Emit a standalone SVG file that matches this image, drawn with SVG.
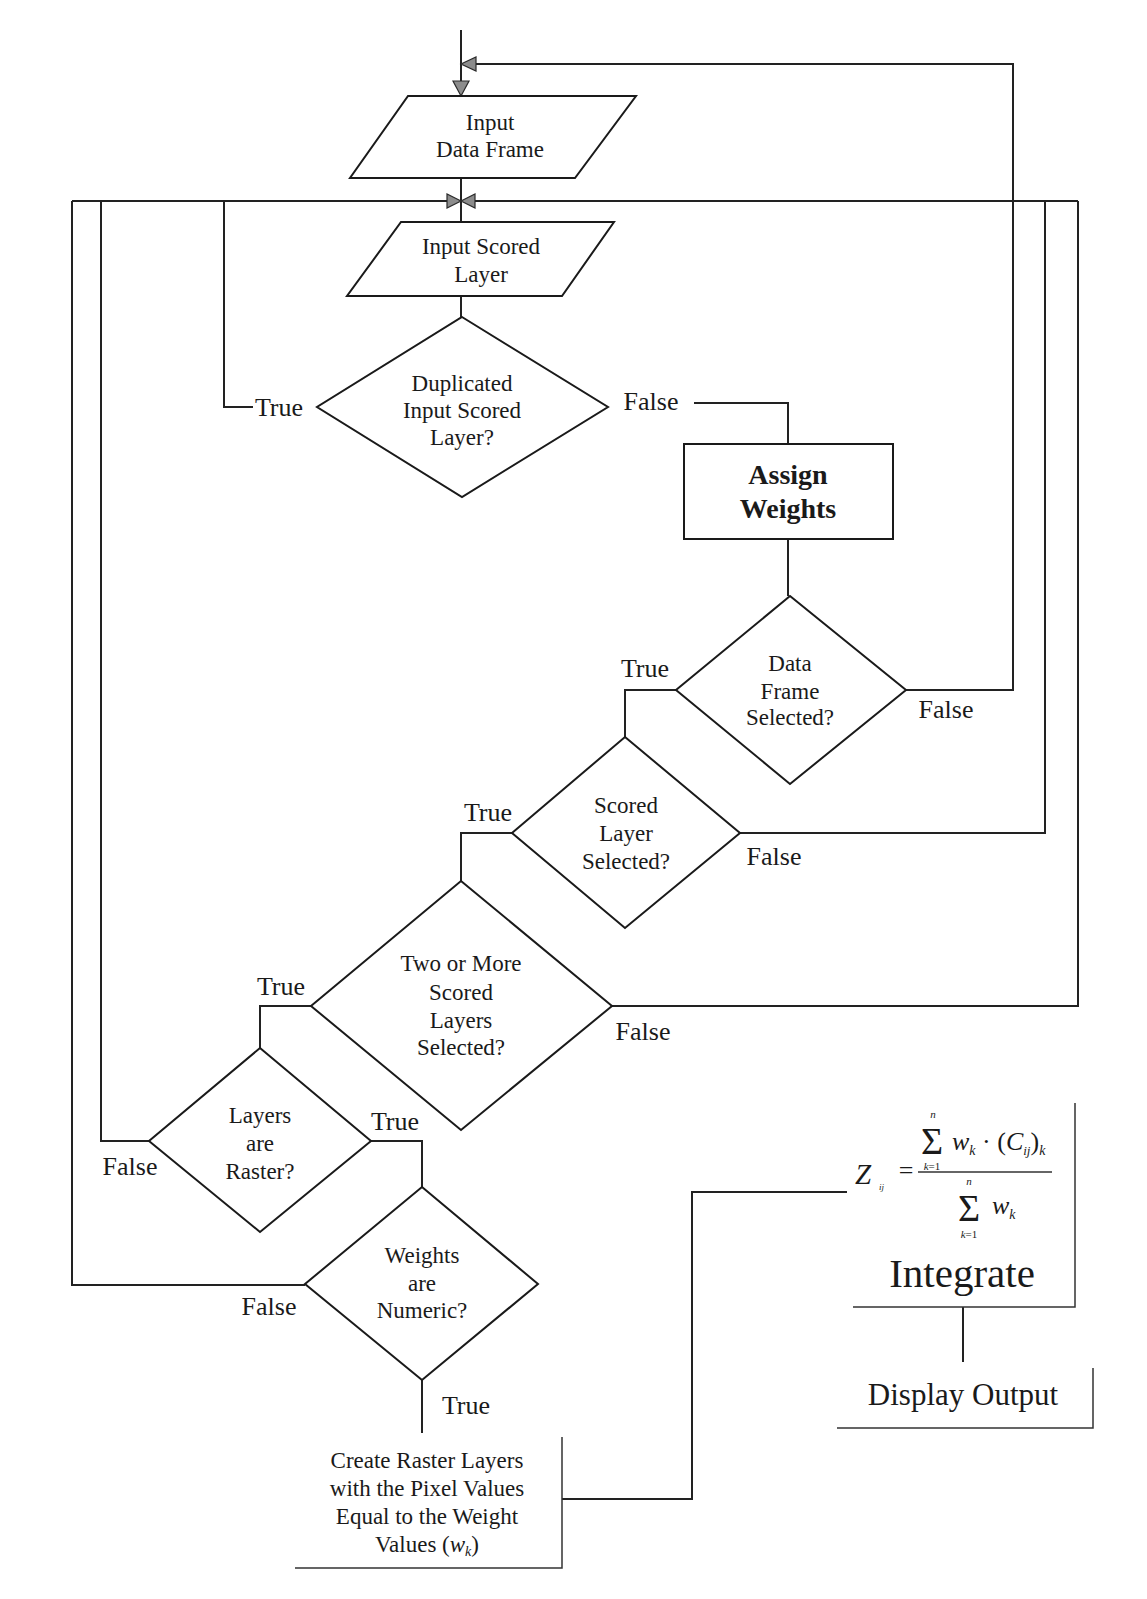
<svg xmlns="http://www.w3.org/2000/svg" width="1147" height="1599" viewBox="0 0 1147 1599">
<style>
  .bg{fill:#ffffff}
  .shape{fill:none;stroke:#1a1a1a;stroke-width:2}
  .ln{fill:none;stroke:#222;stroke-width:2}
  .thin{fill:none;stroke:#333;stroke-width:1.5}
  .ah{fill:#8c8c8c;stroke:#2a2a2a;stroke-width:1.2}
  text{font-family:"Liberation Serif","Times New Roman",serif;fill:#1a1a1a}
  .t{font-size:23px;text-anchor:middle}
  .lb{font-size:26px;text-anchor:middle}
  .b{font-size:28px;font-weight:bold;text-anchor:middle}
  .big{font-size:41px;text-anchor:middle}
  .disp{font-size:31px;text-anchor:middle}
  .it{font-style:italic}
  .sig{font-size:38px;text-anchor:middle}
  .lim{font-size:11px;text-anchor:middle}
</style>
<rect class="bg" x="0" y="0" width="1147" height="1599"/>

<g id="connectors">
  <path class="ln" d="M461,30 V96"/>
  <path class="ln" d="M461,178 V222"/>
  <path class="ln" d="M461,296 V317"/>
  <path class="ln" d="M253,407 H224 V201"/>
  <path class="ln" d="M72,201 H447"/>
  <path class="ln" d="M475,201 H1078"/>
  <path class="ln" d="M694,403 H788 V444"/>
  <path class="ln" d="M788,539 V596"/>
  <path class="ln" d="M906,690 H1013 V64 H476"/>
  <path class="ln" d="M676,690 H625 V737"/>
  <path class="ln" d="M740,833 H1045 V201"/>
  <path class="ln" d="M512,833 H461 V881"/>
  <path class="ln" d="M612,1006 H1078 V201"/>
  <path class="ln" d="M311,1006 H260 V1048"/>
  <path class="ln" d="M149,1141 H101 V201"/>
  <path class="ln" d="M371,1141 H422 V1187"/>
  <path class="ln" d="M305,1285 H72 V201"/>
  <path class="ln" d="M422,1380 V1433"/>
  <path class="ln" d="M562,1499 H692 V1192 H847"/>
  <path class="ln" d="M963,1307 V1362"/>
  <polygon class="ah" points="461,64 476,57 476,71"/>
  <polygon class="ah" points="461,96 453,81 469,81"/>
  <polygon class="ah" points="461,201 447,194 447,208"/>
  <polygon class="ah" points="461,201 475,194 475,208"/>
</g>

<g id="input-data-frame">
  <polygon class="shape" points="408,96 636,96 575,178 350,178"/>
  <text class="t" x="490" y="130">Input</text>
  <text class="t" x="490" y="157">Data Frame</text>
</g>

<g id="input-scored-layer">
  <polygon class="shape" points="401,222 614,222 562,296 347,296"/>
  <text class="t" x="481" y="254">Input Scored</text>
  <text class="t" x="481" y="282">Layer</text>
</g>

<g id="duplicated">
  <polygon class="shape" points="462,317 608,407 462,497 317,407"/>
  <text class="t" x="462" y="391">Duplicated</text>
  <text class="t" x="462" y="418">Input Scored</text>
  <text class="t" x="462" y="445">Layer?</text>
  <text class="lb" x="279" y="416">True</text>
  <text class="lb" x="651" y="410">False</text>
</g>

<g id="assign-weights">
  <rect class="shape" x="684" y="444" width="209" height="95"/>
  <text class="b" x="788" y="484">Assign</text>
  <text class="b" x="788" y="518">Weights</text>
</g>

<g id="data-frame-selected">
  <polygon class="shape" points="790,596 906,690 790,784 676,690"/>
  <text class="t" x="790" y="671">Data</text>
  <text class="t" x="790" y="699">Frame</text>
  <text class="t" x="790" y="725">Selected?</text>
  <text class="lb" x="645" y="677">True</text>
  <text class="lb" x="946" y="718">False</text>
</g>

<g id="scored-layer-selected">
  <polygon class="shape" points="625,737 740,833 625,928 512,833"/>
  <text class="t" x="626" y="813">Scored</text>
  <text class="t" x="626" y="841">Layer</text>
  <text class="t" x="626" y="869">Selected?</text>
  <text class="lb" x="488" y="821">True</text>
  <text class="lb" x="774" y="865">False</text>
</g>

<g id="two-or-more">
  <polygon class="shape" points="461,881 612,1006 461,1130 311,1006"/>
  <text class="t" x="461" y="971">Two or More</text>
  <text class="t" x="461" y="1000">Scored</text>
  <text class="t" x="461" y="1028">Layers</text>
  <text class="t" x="461" y="1055">Selected?</text>
  <text class="lb" x="281" y="995">True</text>
  <text class="lb" x="643" y="1040">False</text>
</g>

<g id="layers-raster">
  <polygon class="shape" points="260,1048 371,1141 260,1232 149,1141"/>
  <text class="t" x="260" y="1123">Layers</text>
  <text class="t" x="260" y="1151">are</text>
  <text class="t" x="260" y="1179">Raster?</text>
  <text class="lb" x="395" y="1130">True</text>
  <text class="lb" x="130" y="1175">False</text>
</g>

<g id="weights-numeric">
  <polygon class="shape" points="422,1187 538,1284 422,1380 305,1284"/>
  <text class="t" x="422" y="1263">Weights</text>
  <text class="t" x="422" y="1291">are</text>
  <text class="t" x="422" y="1318">Numeric?</text>
  <text class="lb" x="269" y="1315">False</text>
  <text class="lb" x="466" y="1414">True</text>
</g>

<g id="create-raster">
  <path class="thin" d="M295,1568 H562 V1437"/>
  <text class="t" x="427" y="1468">Create Raster Layers</text>
  <text class="t" x="427" y="1496">with the Pixel Values</text>
  <text class="t" x="427" y="1524">Equal to the Weight</text>
  <text class="t" x="427" y="1552">Values (<tspan class="it">w</tspan><tspan class="it" font-size="14" dy="4">k</tspan><tspan dy="-4">)</tspan></text>
</g>

<g id="integrate">
  <path class="thin" d="M853,1307 H1075 V1103"/>
  <text class="it" x="863" y="1184" font-size="29" text-anchor="middle">Z</text>
  <text class="it" x="879" y="1190" font-size="9">ij</text>
  <text x="906" y="1179" font-size="26" text-anchor="middle">=</text>
  <line class="thin" x1="918" y1="1172" x2="1052" y2="1172"/>
  <text class="sig" x="932" y="1154">Σ</text>
  <text class="it lim" x="933" y="1118" font-size="13">n</text>
  <text class="lim" x="932" y="1170"><tspan class="it">k</tspan>=1</text>
  <text x="952" y="1150" font-size="26"><tspan class="it">w</tspan><tspan class="it" font-size="14" dy="5">k</tspan><tspan dy="-5"> · (</tspan><tspan class="it">C</tspan><tspan class="it" font-size="13" dy="5">ij</tspan><tspan dy="-5">)</tspan><tspan class="it" font-size="14" dy="5">k</tspan></text>
  <text class="sig" x="969" y="1221">Σ</text>
  <text class="it lim" x="969" y="1185" font-size="13">n</text>
  <text class="lim" x="969" y="1238"><tspan class="it">k</tspan>=1</text>
  <text x="992" y="1214" font-size="26"><tspan class="it">w</tspan><tspan class="it" font-size="14" dy="5">k</tspan></text>
  <text class="big" x="962" y="1287">Integrate</text>
</g>

<g id="display-output">
  <path class="thin" d="M837,1428 H1093 V1368"/>
  <text class="disp" x="963" y="1405">Display Output</text>
</g>
</svg>
